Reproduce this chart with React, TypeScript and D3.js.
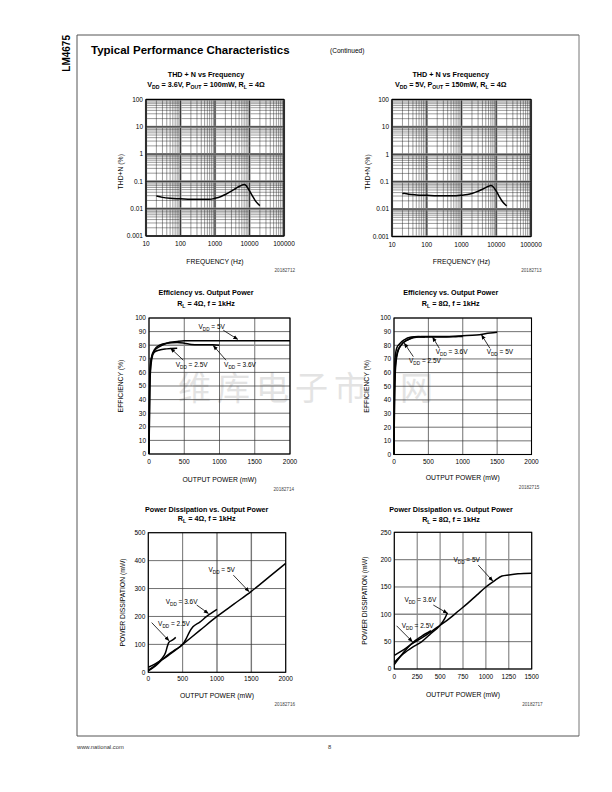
import React from "react";
import * as d3 from "d3";

// ---------- DATA ----------
// THD+N vs Frequency (VDD = 3.6V, POUT = 100mW, RL = 4Ω)
const thdFreqA = [20, 30, 50, 100, 200, 400, 700, 1000, 1500, 2000, 3000, 4000, 5000, 6000, 7000, 8000, 10000, 12000, 15000, 20000];
const thdValA = [0.029, 0.026, 0.024, 0.023, 0.022, 0.022, 0.022, 0.024, 0.028, 0.033, 0.044, 0.055, 0.065, 0.073, 0.077, 0.07, 0.045, 0.03, 0.019, 0.013];
// THD+N vs Frequency (VDD = 5V, POUT = 150mW, RL = 4Ω)
const thdFreqB = [20, 22, 30, 50, 100, 200, 400, 700, 1000, 1500, 2000, 3000, 4000, 5000, 6000, 7000, 8000, 10000, 12000, 15000, 20000];
const thdValB = [0.036, 0.038, 0.035, 0.033, 0.032, 0.031, 0.031, 0.031, 0.032, 0.034, 0.037, 0.045, 0.053, 0.061, 0.068, 0.072, 0.067, 0.045, 0.03, 0.019, 0.013];

// Efficiency vs Output Power, RL = 4Ω
const eff4P50 = [0, 5, 10, 20, 40, 80, 150, 250, 400, 500, 700, 1000, 1500, 2000];
const eff4V50 = [0, 20, 45, 60, 70, 76, 79, 81.5, 82.7, 83.2, 83.3, 83.2, 83.2, 83.3];
const eff4P36 = [0, 5, 10, 20, 40, 80, 150, 250, 400, 500, 600, 700, 900, 1000];
const eff4V36 = [0, 25, 50, 63, 72, 77, 80, 81.5, 82, 81.5, 80.6, 80.3, 80.3, 80];
const eff4P25 = [0, 5, 10, 20, 40, 80, 150, 250, 400];
const eff4V25 = [0, 35, 55, 66, 72, 75, 76.5, 77.3, 77.8];

// Efficiency vs Output Power, RL = 8Ω
const eff8P50 = [0, 5, 15, 30, 60, 100, 200, 300, 400, 500, 700, 1000, 1200, 1400, 1500];
const eff8V50 = [0, 30, 55, 68, 76, 80, 84, 86, 86.5, 86.5, 86.5, 87, 87.5, 89, 89.5];
const eff8P36 = [0, 8, 20, 50, 100, 200, 350, 500, 700, 900, 1000];
const eff8V36 = [0, 45, 65, 75, 80, 84, 86, 86, 86, 86.3, 86.5];
const eff8P25 = [0, 5, 15, 40, 80, 150, 250, 350, 450];
const eff8V25 = [0, 50, 70, 78, 81, 84, 86, 86.5, 86];

// Power Dissipation vs Output Power, RL = 4Ω
const pd4P50 = [0, 100, 200, 300, 400, 500, 750, 1000, 1250, 1500, 1750, 2000];
const pd4V50 = [18, 30, 45, 62, 80, 100, 150, 200, 245, 290, 340, 390];
const pd4P36 = [0, 100, 200, 300, 400, 500, 550, 600, 650, 750, 850, 1000];
const pd4V36 = [5, 22, 45, 65, 82, 100, 120, 145, 163, 180, 200, 225];
const pd4P25 = [0, 100, 200, 250, 280, 300, 350, 400];
const pd4V25 = [8, 25, 50, 70, 95, 108, 115, 125];

// Power Dissipation vs Output Power, RL = 8Ω
const pd8P50 = [0, 100, 200, 300, 400, 500, 600, 700, 800, 900, 1000, 1100, 1175, 1250, 1350, 1500];
const pd8V50 = [25, 35, 47, 57, 68, 80, 92, 106, 120, 135, 150, 162, 170, 172, 174, 175];
const pd8P36 = [0, 100, 200, 300, 400, 500, 550, 580];
const pd8V36 = [12, 28, 40, 50, 65, 80, 92, 103];
const pd8P25 = [0, 100, 200, 300, 400];
const pd8V25 = [8, 30, 48, 60, 70];

// Tick values / labels
const thdXTicks = [10, 100, 1000, 10000, 100000];
const thdXLabels = ["10", "100", "1000", "10000", "100000"];
const thdYTicks = [0.001, 0.01, 0.1, 1, 10, 100];
const thdYLabels = ["0.001", "0.01", "0.1", "1", "10", "100"];
const effXTicks = [0, 500, 1000, 1500, 2000];
const effYTicks = [0, 10, 20, 30, 40, 50, 60, 70, 80, 90, 100];
const pd4XTicks = [0, 500, 1000, 1500, 2000];
const pd4YTicks = [0, 100, 200, 300, 400, 500];
const pd8XTicks = [0, 250, 500, 750, 1000, 1250, 1500];
const pd8YTicks = [0, 50, 100, 150, 200, 250];

// ---------- HELPERS ----------
const FONT = "'Liberation Sans', Arial, Helvetica, sans-serif";

function parseRich(s: string) {
  const out: { t: string; sub: boolean }[] = [];
  const re = /_\{([^}]*)\}/g;
  let last = 0;
  let m: RegExpExecArray | null;
  while ((m = re.exec(s))) {
    if (m.index > last) out.push({ t: s.slice(last, m.index), sub: false });
    out.push({ t: m[1], sub: true });
    last = m.index + m[0].length;
  }
  if (last < s.length) out.push({ t: s.slice(last), sub: false });
  return out;
}

function Rich(props: { x: number; y: number; s: string; size: number; weight?: any; anchor?: any; fill?: string }) {
  const segs = parseRich(props.s);
  const off = props.size * 0.28;
  let inSub = false;
  return (
    <text x={props.x} y={props.y} fontSize={props.size} fontWeight={props.weight || "normal"}
      textAnchor={props.anchor || "middle"} fontFamily={FONT} fill={props.fill || "#000"}>
      {segs.map((sg, i) => {
        let dy = 0;
        if (sg.sub && !inSub) { dy = off; inSub = true; }
        else if (!sg.sub && inSub) { dy = -off; inSub = false; }
        return (
          <tspan key={i} dy={dy} fontSize={sg.sub ? props.size * 0.72 : props.size}>{sg.t}</tspan>
        );
      })}
    </text>
  );
}

type Series = { x: number[]; y: number[] };
type Ann = { label: string; lx: number; ly: number; x1: number; y1: number; x2: number; y2: number };

interface ChartProps {
  left: number; right: number; top: number; bottom: number;
  log: boolean;
  xDomain: [number, number]; yDomain: [number, number];
  xTicks: number[]; yTicks: number[];
  xLabels: string[]; yLabels: string[];
  title1: string; title2: string; titleX: number; title1Y: number; title2Y: number;
  xTitle: string; xTitleY: number; yTitle: string; yTitleX: number; yTitleDY?: number;
  xTickY: number;
  figId: string; figIdX: number; figIdY: number;
  series: Series[];
  anns?: Ann[];
  grayY?: number[]; grayX?: number[];
}

function Chart(p: ChartProps) {
  const xs = p.log
    ? d3.scaleLog().domain(p.xDomain).range([p.left, p.right])
    : d3.scaleLinear().domain(p.xDomain).range([p.left, p.right]);
  const ys = p.log
    ? d3.scaleLog().domain(p.yDomain).range([p.bottom, p.top])
    : d3.scaleLinear().domain(p.yDomain).range([p.bottom, p.top]);
  const line = d3.line<[number, number]>()
    .x((d) => xs(d[0]))
    .y((d) => ys(d[1]))
    .curve(d3.curveMonotoneX);

  const grid: React.ReactNode[] = [];
  if (p.log) {
    const minor = (dom: [number, number]) => {
      const arr: number[] = [];
      for (let d = dom[0]; d < dom[1] * 0.999; d *= 10) {
        for (let k = 2; k <= 9; k++) arr.push(d * k);
      }
      return arr;
    };
    minor(p.xDomain).forEach((v, i) => grid.push(
      <line key={"mx" + i} x1={xs(v)} x2={xs(v)} y1={p.top} y2={p.bottom} stroke="#222" strokeWidth={0.45} />));
    minor(p.yDomain).forEach((v, i) => grid.push(
      <line key={"my" + i} y1={ys(v)} y2={ys(v)} x1={p.left} x2={p.right} stroke="#222" strokeWidth={0.45} />));
    p.xTicks.forEach((v, i) => {
      grid.push(<line key={"gx" + i} x1={xs(v)} x2={xs(v)} y1={p.top} y2={p.bottom} stroke="#999" strokeWidth={2.2} />);
      grid.push(<line key={"Gx" + i} x1={xs(v)} x2={xs(v)} y1={p.top} y2={p.bottom} stroke="#111" strokeWidth={0.7} />);
    });
    p.yTicks.forEach((v, i) => {
      grid.push(<line key={"gy" + i} y1={ys(v)} y2={ys(v)} x1={p.left} x2={p.right} stroke="#999" strokeWidth={2.2} />);
      grid.push(<line key={"Gy" + i} y1={ys(v)} y2={ys(v)} x1={p.left} x2={p.right} stroke="#111" strokeWidth={0.7} />);
    });
  } else {
    p.xTicks.forEach((v, i) => {
      const gray = p.grayX && p.grayX.includes(v);
      grid.push(<line key={"gx" + i} x1={xs(v)} x2={xs(v)} y1={p.top} y2={p.bottom}
        stroke={gray ? "#777" : "#333"} strokeWidth={gray ? 1.4 : 0.7} />);
    });
    p.yTicks.forEach((v, i) => {
      const gray = p.grayY && p.grayY.includes(v);
      grid.push(<line key={"gy" + i} y1={ys(v)} y2={ys(v)} x1={p.left} x2={p.right}
        stroke={gray ? "#888" : "#333"} strokeWidth={gray ? 1.4 : 0.7} />);
    });
  }

  const midY = (p.top + p.bottom) / 2 + (p.yTitleDY || 0);
  const midX = (p.left + p.right) / 2;

  return (
    <g>
      <Rich x={p.titleX} y={p.title1Y} s={p.title1} size={7.2} weight="bold" />
      <Rich x={p.titleX} y={p.title2Y} s={p.title2} size={7.2} weight="bold" />
      {grid}
      <rect x={p.left} y={p.top} width={p.right - p.left} height={p.bottom - p.top}
        fill="none" stroke="#000" strokeWidth={1.1} />
      {p.series.map((s, i) => (
        <path key={"s" + i} d={line(s.x.map((x, j) => [x, s.y[j]] as [number, number])) || ""}
          fill="none" stroke="#000" strokeWidth={1.5} strokeLinejoin="round" />
      ))}
      {(p.anns || []).map((a, i) => (
        <g key={"a" + i}>
          <line x1={xs(a.x1)} y1={ys(a.y1)} x2={xs(a.x2)} y2={ys(a.y2)} stroke="#000" strokeWidth={0.8}
            markerEnd="url(#arrowHead)" />
          <Rich x={xs(a.lx)} y={ys(a.ly) + 2.3} s={a.label} size={6.5} />
        </g>
      ))}
      {p.yTicks.map((v, i) => (
        <text key={"yl" + i} x={p.left - 3} y={ys(v) + 2.3} fontSize={6.5} textAnchor="end" fontFamily={FONT}>
          {p.yLabels[i]}
        </text>
      ))}
      {p.xTicks.map((v, i) => (
        <text key={"xl" + i} x={xs(v)} y={p.xTickY} fontSize={6.5} textAnchor="middle" fontFamily={FONT}>
          {p.xLabels[i]}
        </text>
      ))}
      <text x={midX} y={p.xTitleY} fontSize={6.8} textAnchor="middle" fontFamily={FONT}>{p.xTitle}</text>
      <text transform={`translate(${p.yTitleX + 2.4},${midY}) rotate(-90)`} fontSize={6.8}
        textAnchor="middle" fontFamily={FONT}>{p.yTitle}</text>
      <text x={p.figIdX} y={p.figIdY} fontSize={4.6} textAnchor="end" fontFamily={FONT} fill="#444">{p.figId}</text>
    </g>
  );
}

export default function App() {
  const effLabels = effYTicks.map(String);
  return (
    <svg width={612} height={792} viewBox="0 0 612 792"
      style={{ position: "absolute", left: 0, top: 0, background: "#fff" }}>
      <defs>
        <marker id="arrowHead" viewBox="0 0 10 10" refX="9" refY="5" markerWidth="5" markerHeight="5"
          orient="auto" markerUnits="userSpaceOnUse">
          <path d="M0,1 L10,5 L0,9 z" fill="#000" />
        </marker>
      </defs>
      <rect x={0} y={0} width={612} height={792} fill="#fff" />

      {/* watermark */}
      <text x={178} y={400} fontSize={33} letterSpacing={6} fill="#e3e3e3"
        fontFamily="'Noto Sans CJK SC', sans-serif">维库电子市</text>
      <text x={400} y={400} fontSize={33} fill="#e3e3e3" fontFamily="'Noto Sans CJK SC', sans-serif">网</text>

      {/* page frame */}
      <line x1={77} y1={35} x2={579} y2={35} stroke="#555" strokeWidth={1} />
      <line x1={77} y1={35} x2={77} y2={736} stroke="#555" strokeWidth={1} />
      <line x1={579} y1={35} x2={579} y2={736} stroke="#777" strokeWidth={1} />
      <line x1={77} y1={736} x2={579} y2={736} stroke="#555" strokeWidth={1} />

      <text transform="translate(70,35) rotate(-90)" textAnchor="end" fontSize={10} fontWeight="bold"
        fontFamily={FONT}>LM4675</text>
      <text x={91} y={54} fontSize={11.5} fontWeight="bold" fontFamily={FONT}>Typical Performance Characteristics</text>
      <text x={330} y={53} fontSize={6.6} fontFamily={FONT}>(Continued)</text>

      <Chart left={146} right={284} top={99.5} bottom={236} log
        xDomain={[10, 100000]} yDomain={[0.001, 100]}
        xTicks={thdXTicks} yTicks={thdYTicks} xLabels={thdXLabels} yLabels={thdYLabels}
        title1="THD + N vs Frequency" title2="V_{DD} = 3.6V, P_{OUT} = 100mW, R_{L} = 4Ω"
        titleX={206} title1Y={77.3} title2Y={87.3}
        xTitle="FREQUENCY (Hz)" xTitleY={263.5} yTitle="THD+N (%)" yTitleX={120.7} yTitleDY={4}
        xTickY={245.7} figId="20182712" figIdX={295} figIdY={272}
        series={[{ x: thdFreqA, y: thdValA }]} />

      <Chart left={392} right={531} top={99.5} bottom={236.5} log
        xDomain={[10, 100000]} yDomain={[0.001, 100]}
        xTicks={thdXTicks} yTicks={thdYTicks} xLabels={thdXLabels} yLabels={thdYLabels}
        title1="THD + N vs Frequency" title2="V_{DD} = 5V, P_{OUT} = 150mW, R_{L} = 4Ω"
        titleX={450.7} title1Y={77.3} title2Y={87.3}
        xTitle="FREQUENCY (Hz)" xTitleY={264} yTitle="THD+N (%)" yTitleX={368} yTitleDY={4}
        xTickY={246.5} figId="20182713" figIdX={541.7} figIdY={271.5}
        series={[{ x: thdFreqB, y: thdValB }]} />

      <Chart left={149} right={290} top={318} bottom={454} log={false}
        xDomain={[0, 2000]} yDomain={[0, 100]}
        xTicks={effXTicks} yTicks={effYTicks} xLabels={effXTicks.map(String)} yLabels={effLabels}
        title1="Efficiency vs. Output Power" title2="R_{L} = 4Ω, f = 1kHz"
        titleX={206} title1Y={295} title2Y={306}
        xTitle="OUTPUT POWER (mW)" xTitleY={481.7} yTitle="EFFICIENCY (%)" yTitleX={120.7}
        xTickY={464} figId="20182714" figIdX={294} figIdY={491}
        grayY={[80]}
        series={[{ x: eff4P50, y: eff4V50 }, { x: eff4P36, y: eff4V36 }, { x: eff4P25, y: eff4V25 }]}
        anns={[
          { label: "V_{DD} = 5V", lx: 889, ly: 93.6, x1: 1054, y1: 91, x2: 1258, y2: 84.3 },
          { label: "V_{DD} = 2.5V", lx: 605, ly: 65.4, x1: 487, y1: 69, x2: 307, y2: 77.7 },
          { label: "V_{DD} = 3.6V", lx: 1291, ly: 65.4, x1: 1092, y1: 69, x2: 912, y2: 79.7 },
        ]} />

      <Chart left={394} right={531.5} top={318} bottom={454.5} log={false}
        xDomain={[0, 2000]} yDomain={[0, 100]}
        xTicks={effXTicks} yTicks={effYTicks} xLabels={effXTicks.map(String)} yLabels={effLabels}
        title1="Efficiency vs. Output Power" title2="R_{L} = 8Ω, f = 1kHz"
        titleX={450.7} title1Y={295} title2Y={305.5}
        xTitle="OUTPUT POWER (mW)" xTitleY={480} yTitle="EFFICIENCY (%)" yTitleX={366.7}
        xTickY={464.3} figId="20182715" figIdX={539.3} figIdY={488.5}
        series={[{ x: eff8P50, y: eff8V50 }, { x: eff8P36, y: eff8V36 }, { x: eff8P25, y: eff8V25 }]}
        anns={[
          { label: "V_{DD} = 2.5V", lx: 450, ly: 68.5, x1: 281, y1: 71.7, x2: 150, y2: 81.5 },
          { label: "V_{DD} = 3.6V", lx: 838, ly: 75.4, x1: 659, y1: 77.8, x2: 562, y2: 85.9 },
          { label: "V_{DD} = 5V", lx: 1540, ly: 75.4, x1: 1395, y1: 77.8, x2: 1274, y2: 87.6 },
        ]} />

      <Chart left={148.3} right={285.7} top={532.7} bottom={672.3} log={false}
        xDomain={[0, 2000]} yDomain={[0, 500]}
        xTicks={pd4XTicks} yTicks={pd4YTicks} xLabels={pd4XTicks.map(String)} yLabels={pd4YTicks.map(String)}
        title1="Power Dissipation vs. Output Power" title2="R_{L} = 4Ω, f = 1kHz"
        titleX={206.7} title1Y={511.7} title2Y={521}
        xTitle="OUTPUT POWER (mW)" xTitleY={698} yTitle="POWER DISSIPATION (mW)" yTitleX={122.7}
        xTickY={680.7} figId="20182716" figIdX={295} figIdY={706}
        grayX={[1000, 1500]}
        series={[{ x: pd4P50, y: pd4V50 }, { x: pd4P36, y: pd4V36 }, { x: pd4P25, y: pd4V25 }]}
        anns={[
          { label: "V_{DD} = 5V", lx: 1068, ly: 366, x1: 1238, y1: 348, x2: 1466, y2: 289 },
          { label: "V_{DD} = 3.6V", lx: 485, ly: 253, x1: 704, y1: 241, x2: 874, y2: 211 },
          { label: "V_{DD} = 2.5V", lx: 374, ly: 175, x1: 49, y1: 178, x2: 301, y2: 113 },
        ]} />

      <Chart left={394.3} right={531.7} top={532.3} bottom={669} log={false}
        xDomain={[0, 1500]} yDomain={[0, 250]}
        xTicks={pd8XTicks} yTicks={pd8YTicks} xLabels={pd8XTicks.map(String)} yLabels={pd8YTicks.map(String)}
        title1="Power Dissipation vs. Output Power" title2="R_{L} = 8Ω, f = 1kHz"
        titleX={451} title1Y={511.7} title2Y={521.7}
        xTitle="OUTPUT POWER (mW)" xTitleY={696.7} yTitle="POWER DISSIPATION (mW)" yTitleX={365}
        xTickY={679} figId="20182717" figIdX={542.7} figIdY={706}
        grayY={[100, 200]}
        series={[{ x: pd8P50, y: pd8V50 }, { x: pd8P36, y: pd8V36 }, { x: pd8P25, y: pd8V25 }]}
        anns={[
          { label: "V_{DD} = 5V", lx: 790, ly: 199, x1: 917, y1: 190, x2: 1074, y2: 161 },
          { label: "V_{DD} = 3.6V", lx: 284, ly: 126, x1: 426, y1: 117, x2: 579, y2: 102 },
          { label: "V_{DD} = 2.5V", lx: 255, ly: 79, x1: 25, y1: 79, x2: 197, y2: 50 },
        ]} />

      <text x={77} y={749} fontSize={5.8} fontFamily={FONT} fill="#333">www.national.com</text>
      <text x={328} y={749} fontSize={5.8} fontFamily={FONT} fill="#333">8</text>
    </svg>
  );
}
